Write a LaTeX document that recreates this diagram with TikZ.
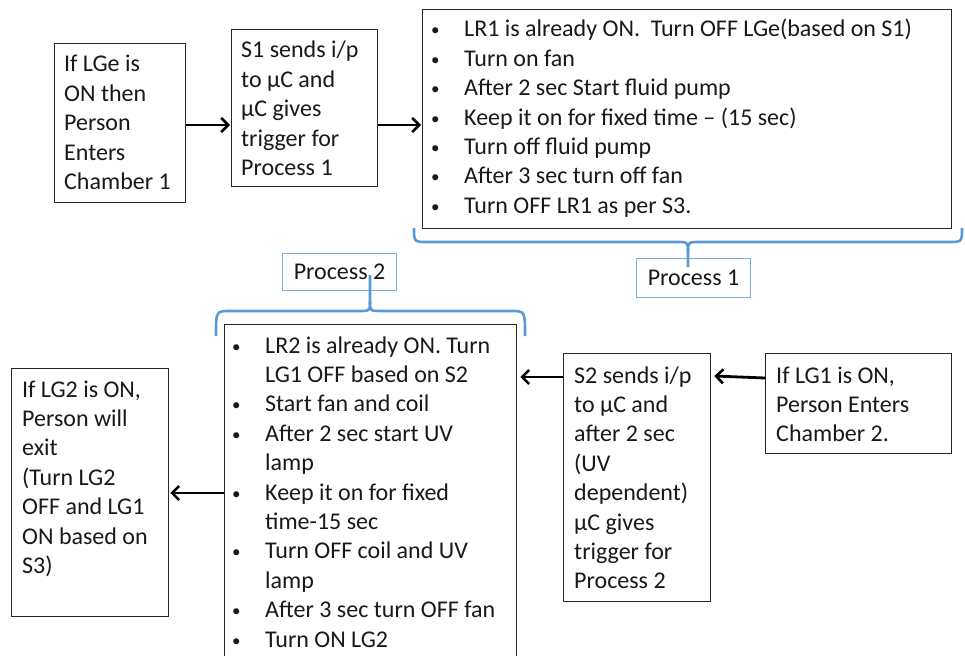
\documentclass[tikz,border=0pt]{standalone}
\usepackage{fontspec}
\setmainfont{Carlito}
\usetikzlibrary{arrows.meta}
\definecolor{bracecol}{HTML}{5B9BD5}
\definecolor{linecol}{HTML}{262626}
\newcommand{\blines}[1]{\begin{tabular}[t]{@{}l@{}}#1\end{tabular}}
\newcommand{\bull}[1]{\begin{tabular}[t]{@{}p{33pt}@{}l@{}}#1\end{tabular}}
\newcommand{\bt}{\raisebox{1pt}{\fontsize{17}{17}\selectfont\textbullet}}
\begin{document}
\begin{tikzpicture}[x=1pt,y=-1pt,
  box/.style={draw=linecol,line width=1.3pt,inner sep=0pt,anchor=north west},
  lbl/.style={draw=bracecol!80,line width=1pt,inner sep=0pt,anchor=north west},
  txt/.style={inner sep=0pt,anchor=base west,font=\fontsize{24}{29.4}\selectfont,text=black!90},
  arr/.style={line width=2.8pt,-{Straight Barb[length=7pt,width=14pt,line width=2.6pt]}},
  brace/.style={draw=bracecol,line width=2.6pt}]
\useasboundingbox (0,0) rectangle (965,655);
\fill[white] (0,0) rectangle (965,655);
\begin{scope}
\clip (0,0) rectangle (965,655);
% boxes
\node[box,minimum width=131pt,minimum height=159pt] (a) at (54,43) {};
\node[box,minimum width=146pt,minimum height=157pt] (b) at (231,29) {};
\node[box,minimum width=529pt,minimum height=219pt] (c) at (422,9) {};
\node[box,minimum width=292pt,minimum height=360pt] (d) at (224,324) {};
\node[box,minimum width=157pt,minimum height=248pt] (e) at (11,368) {};
\node[box,minimum width=147pt,minimum height=248pt] (f) at (563,353) {};
\node[box,minimum width=186pt,minimum height=100pt] (g) at (765,353) {};
% texts
\node[txt] (at) at (64,72) {\blines{If LGe is\\ON then\\Person\\Enters\\Chamber 1}};
\node[txt] (bt) at (241,58) {\blines{S1 sends i/p\\to µC and\\µC gives\\trigger for\\Process 1}};
\node[txt] (ct) at (431,37) {\bull{\bt & LR1 is already ON.\ \ Turn OFF LGe(based on S1)\\
\bt & Turn on fan\\
\bt & After 2 sec Start fluid pump\\
\bt & Keep it on for fixed time -- (15 sec)\\
\bt & Turn off fluid pump\\
\bt & After 3 sec turn off fan\\
\bt & Turn OFF LR1 as per S3.}};
\node[txt] (dt) at (232,353) {\bull{\bt & LR2 is already ON. Turn\\
 & LG1 OFF based on S2\\
\bt & Start fan and coil\\
\bt & After 2 sec start UV\\
 & lamp\\
\bt & Keep it on for fixed\\
 & time-15 sec\\
\bt & Turn OFF coil and UV\\
 & lamp\\
\bt & After 3 sec turn OFF fan\\
\bt & Turn ON LG2}};
\node[txt] (et) at (22,397) {\blines{If LG2 is ON,\\Person will\\exit\\(Turn LG2\\OFF and LG1\\ON based on\\S3)}};
\node[txt] (ft) at (574,383) {\blines{S2 sends i/p\\to µC and\\after 2 sec\\(UV\\dependent)\\µC gives\\trigger for\\Process 2}};
\node[txt] (gt) at (776,383) {\blines{If LG1 is ON,\\Person Enters\\Chamber 2.}};
% process labels
\node[lbl,minimum width=114pt,minimum height=39pt] (p1) at (636,258) {};
\node[font=\fontsize{24}{29.4}\selectfont,text=black!90] (p1t) at (p1.center) {Process 1};
\node[lbl,minimum width=114pt,minimum height=37pt] (p2) at (282,253) {};
\node[font=\fontsize{24}{29.4}\selectfont,text=black!90] (p2t) at (p2.center) {Process 2};
% braces
\draw[brace] (414,228) .. controls (414,242) .. (428,242) -- (676,242) .. controls (688,242) .. (688,252) -- (688,267);
\draw[brace] (962,228) .. controls (962,242) .. (948,242) -- (700,242) .. controls (688,242) .. (688,252);
\draw[brace] (216,336) .. controls (216,311) .. (230,311) -- (358,311) .. controls (370,311) .. (370,301) -- (370,275);
\draw[brace] (525,336) .. controls (525,311) .. (511,311) -- (382,311) .. controls (370,311) .. (370,301);
% arrows
\draw[arr] (a.east |- 0,125) -- ([xshift=-1pt]b.west |- 0,125);
\draw[arr] (b.east |- 0,125) -- ([xshift=-1pt]c.west |- 0,125);
\draw[arr] (g.west |- 0,378) -- ([xshift=3pt]f.east |- 0,376);
\draw[arr] (f.west |- 0,377) -- ([xshift=3pt]d.east |- 0,377);
\draw[arr] (d.west |- 0,493) -- ([xshift=1pt]e.east |- 0,493);
\end{scope}
\end{tikzpicture}
\end{document}
